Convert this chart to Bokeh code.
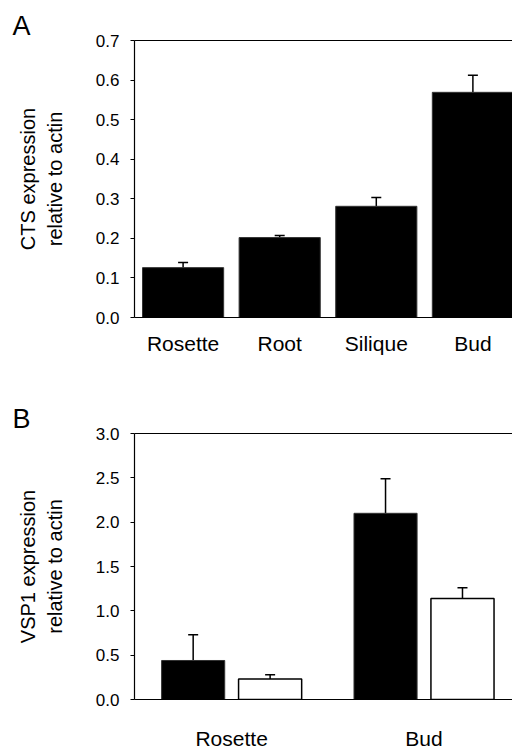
from bokeh.plotting import figure
from bokeh.layouts import column
from bokeh.models import (ColumnDataSource, FixedTicker, LinearAxis, Whisker,
                          TeeHead, Range1d)
from bokeh.embed import file_html
from bokeh.resources import INLINE

# ---------------- data ----------------
a_categories = ["Rosette", "Root", "Silique", "Bud"]
a_values = [0.126, 0.202, 0.281, 0.569]
a_errors = [0.013, 0.005, 0.022, 0.043]
a_ticks = [0.0, 0.1, 0.2, 0.3, 0.4, 0.5, 0.6, 0.7]

b_categories = ["Rosette", "Bud"]
b_black_values = [0.44, 2.10]
b_black_errors = [0.29, 0.39]
b_white_values = [0.23, 1.14]
b_white_errors = [0.05, 0.12]
b_ticks = [0.0, 0.5, 1.0, 1.5, 2.0, 2.5, 3.0]

FONT = "Liberation Sans"
TICK_SIZE = "17px"
XLAB_SIZE = "21px"
YLAB_SIZE = "20px"


def style(p, ticks, ylabel, cats, xlab_standoff, letter):
    p.xgrid.visible = False
    p.ygrid.visible = False
    p.outline_line_color = None
    p.background_fill_color = "white"
    p.border_fill_color = "white"

    ya = p.yaxis[0]
    ya.ticker = FixedTicker(ticks=ticks)
    ya.major_label_overrides = {t: "%.1f" % t for t in ticks}
    ya.minor_tick_line_color = None
    ya.major_tick_out = 4
    ya.major_tick_in = 0
    ya.major_tick_line_width = 1.2
    ya.axis_line_width = 1.2
    ya.axis_line_color = "black"
    ya.major_tick_line_color = "black"
    ya.major_label_text_font = FONT
    ya.major_label_text_font_size = TICK_SIZE
    ya.major_label_text_color = "black"
    ya.major_label_standoff = 11
    ya.axis_label = ylabel
    ya.axis_label_text_font = FONT
    ya.axis_label_text_font_size = YLAB_SIZE
    ya.axis_label_text_font_style = "normal"
    ya.axis_label_text_color = "black"
    ya.axis_label_standoff = 27

    xa = p.xaxis[0]
    xa.ticker = FixedTicker(ticks=list(range(len(cats))))
    xa.major_label_overrides = {i: c for i, c in enumerate(cats)}
    xa.minor_tick_line_color = None
    xa.major_tick_line_color = None
    xa.major_tick_out = 0
    xa.major_tick_in = 0
    xa.axis_line_width = 1.2
    xa.axis_line_color = "black"
    xa.major_label_text_font = FONT
    xa.major_label_text_font_size = XLAB_SIZE
    xa.major_label_text_color = "black"
    xa.major_label_standoff = xlab_standoff

    top = LinearAxis(ticker=FixedTicker(ticks=[]), major_tick_line_color=None,
                     minor_tick_line_color=None, axis_line_width=1.2,
                     axis_line_color="black", major_tick_out=0, major_tick_in=0,
                     major_label_standoff=0)
    p.add_layout(top, "above")

    p.title.text = letter
    p.title.align = "left"
    p.title.offset = -122
    p.title.standoff = 0
    p.title.text_font = FONT
    p.title.text_font_size = "27px"
    p.title.text_font_style = "normal"
    p.title.text_color = "black"


# ---------------- panel A ----------------
pa = figure(width=512, height=370, output_backend="svg", toolbar_location=None,
            x_range=Range1d(-0.503, 3.41), y_range=Range1d(0, 0.7),
            min_border_left=134, min_border_right=0, min_border_top=40,
            min_border_bottom=53)
style(pa, a_ticks, "CTS expression\nrelative to actin", a_categories, 14, "A")

a_x = list(range(len(a_categories)))
a_src = ColumnDataSource(dict(x=a_x, top=a_values,
                              upper=[v + e for v, e in zip(a_values, a_errors)]))
pa.vbar(x="x", top="top", bottom=0, width=0.84, source=a_src,
        fill_color="black", line_color="#333333", line_width=1)
pa.add_layout(Whisker(source=a_src, base="x", lower="top", upper="upper",
                      line_color="black", line_width=1.5, lower_head=None,
                      upper_head=TeeHead(size=10, line_width=1.5, line_color="black")))

# ---------------- panel B ----------------
pb = figure(width=512, height=382, output_backend="svg", toolbar_location=None,
            x_range=Range1d(-0.505, 1.46), y_range=Range1d(0, 3.0),
            min_border_left=134, min_border_right=0, min_border_top=63,
            min_border_bottom=42)
style(pb, b_ticks, "VSP1 expression\nrelative to actin", b_categories, 27, "B")

off = 0.2
b_x = list(range(len(b_categories)))
b_black_src = ColumnDataSource(dict(
    x=[i - off for i in b_x], top=b_black_values,
    upper=[v + e for v, e in zip(b_black_values, b_black_errors)]))
b_white_src = ColumnDataSource(dict(
    x=[i + off for i in b_x], top=b_white_values,
    upper=[v + e for v, e in zip(b_white_values, b_white_errors)]))
pb.vbar(x="x", top="top", bottom=0, width=0.328, source=b_black_src,
        fill_color="black", line_color="#333333", line_width=1)
pb.vbar(x="x", top="top", bottom=0, width=0.328, source=b_white_src,
        fill_color="white", line_color="black", line_width=1.5)
for src in (b_black_src, b_white_src):
    pb.add_layout(Whisker(source=src, base="x", lower="top", upper="upper",
                          line_color="black", line_width=1.5, lower_head=None,
                          upper_head=TeeHead(size=10, line_width=1.5, line_color="black")))

layout = column(pa, pb, spacing=0)
open("out.html", "w").write(file_html(layout, INLINE))
